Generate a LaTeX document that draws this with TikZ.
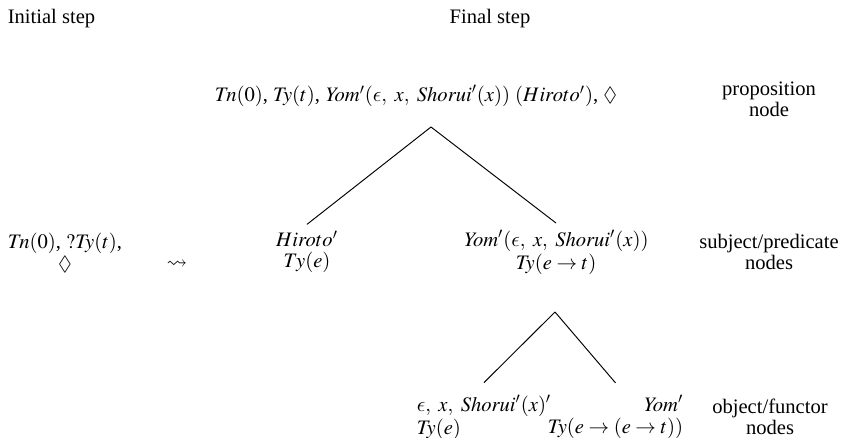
\documentclass[tikz,border=0pt]{standalone}
\usepackage{mathptmx}
\usepackage{amssymb}
\usepackage[no-math]{fontspec}
\setmainfont{Liberation Serif}
\usetikzlibrary{positioning}

% lunate epsilon taken from Computer Modern
\DeclareSymbolFont{cmletters}{OML}{cmm}{m}{it}
\DeclareMathSymbol{\lunateeps}{\mathord}{cmletters}{"0F}

\begin{document}
\begin{tikzpicture}[x=0.52pt, y=-0.52pt,
    every node/.style={font=\fontsize{10.7}{10.8}\selectfont, align=center},
    edge/.style={draw=black, line width=0.5pt}]
    % Fix the page to the reference frame
    \useasboundingbox (0,0) rectangle (863,438);

    % Column headings
    \node[anchor=west] (initHead) at (1,19) {Initial step};
    \node (finalHead) at (490,19) {Final step};

    % Initial step
    \node (init) at (65,253) {$\mathit{Tn}(0)$, $?\mathit{Ty}(t)$,\\[1pt] $\Diamond$};
    \node (step) at (177,265) {$\leadsto$};

    % Final step: the tree
    \node (prop) at (416,96) {$\mathit{Tn}(0)$, $\mathit{Ty}(t)$, $\mathit{Yom}'(\lunateeps,\ x,\ \mathit{Shorui}'(x))\ (Hiroto')$, $\Diamond$};
    \coordinate (propApex) at (431,127);

    \node (subj) at (307,252) {$Hiroto'$\\ $Ty(e)$};
    \node (pred) at (556,252) {$\mathit{Yom}'(\lunateeps,\ x,\ \mathit{Shorui}'(x))$\\[1pt] $\mathit{Ty}(e\rightarrow t)$};
    \coordinate (predApex) at (555,312);

    \node[anchor=west, align=left, outer ysep=3pt] (obj) at (410,417) {$\lunateeps,\ x,\ \mathit{Shorui}'(x)'$\\[1pt] $\mathit{Ty}(e)$};
    \node[anchor=east, align=right, outer ysep=3pt] (fun) at (690,417) {$\mathit{Yom}'$\\[1pt] $\mathit{Ty}(e\rightarrow(e\rightarrow t))$};

    % Draw the branches
    \draw[edge] (propApex) -- (subj.north);
    \draw[edge] (propApex) -- (pred.north);
    \draw[edge] (predApex) -- (obj.north);
    \draw[edge] (predApex) -- (fun.north);

    % Row labels
    \node (propLabel) at (769,99) {proposition\\ node};
    \node (subjLabel) at (769,252) {subject/predicate\\ nodes};
    \node (objLabel) at (770,417) {object/functor\\ nodes};
\end{tikzpicture}
\end{document}
